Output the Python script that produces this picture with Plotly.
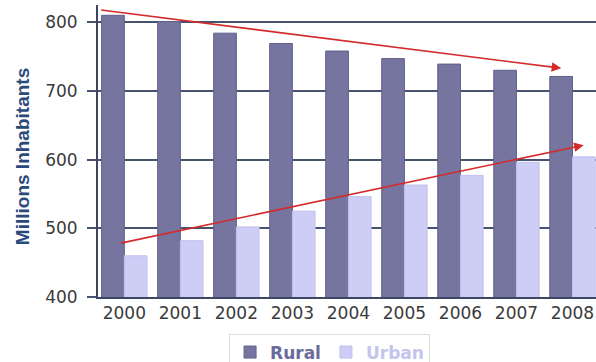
import plotly.graph_objects as go

years = ["2000", "2001", "2002", "2003", "2004", "2005", "2006", "2007", "2008"]
rural = [810, 801, 784, 769, 758, 747, 739, 730, 721]
urban = [460, 482, 502, 525, 546, 563, 577, 596, 604]
y_ticks = [400, 500, 600, 700, 800]

# trend arrows (category index, value)
trend_down = ((-0.44, 818), (7.8, 733))
trend_up = ((-0.09, 478), (8.2, 621))

fig = go.Figure()
fig.add_trace(go.Bar(x=years, y=rural, name="<span style='color:#6a6a9c'>Rural</span>",
                     marker=dict(color="#75759f", line=dict(color="#5f5f8a", width=1))))
fig.add_trace(go.Bar(x=years, y=urban, name="<span style='color:#c4c4ee'>Urban</span>",
                     marker=dict(color="#cdcdf5", line=dict(color="#c0c0ee", width=1))))

for (x0, y0), (x1, y1) in (trend_down, trend_up):
    fig.add_annotation(x=x1, y=y1, ax=x0, ay=y0, xref="x", yref="y",
                       axref="x", ayref="y", showarrow=True, arrowhead=2,
                       arrowsize=1.2, arrowwidth=1.6, arrowcolor="#d42a2a", text="")

fig.add_annotation(text="<b>Millions Inhabitants</b>", textangle=-90,
                   xref="paper", yref="paper", x=-0.1526, y=0.479,
                   xanchor="center", yanchor="middle", showarrow=False,
                   font=dict(size=19, family="Liberation Sans Narrow, Liberation Sans",
                             color="#2b4a7c"))

fig.update_layout(
    width=596, height=362,
    margin=dict(l=98, r=0, t=5, b=65, autoexpand=False),
    plot_bgcolor="white", paper_bgcolor="white",
    barmode="group", bargap=0.19, bargroupgap=0,
    font=dict(family="DejaVu Sans", color="#3a3a3a"),
    legend=dict(orientation="h", x=0.465, xanchor="center", y=-0.125, yanchor="top",
                font=dict(size=17, color="#666666", family="DejaVu Sans", weight="bold"),
                bordercolor="#dddddd", borderwidth=1, itemwidth=30,
                tracegroupgap=0),
    showlegend=True,
)
fig.update_xaxes(type="category", range=[-0.47, 8.42], showgrid=False,
                 showline=True, linecolor="#3a4866", linewidth=2,
                 tickfont=dict(size=17, family="DejaVu Sans", color="#3a3a3a"),
                 ticks="", automargin=False)
fig.update_yaxes(range=[400, 825], tickvals=y_ticks, showgrid=True,
                 gridcolor="#46526e", gridwidth=1.5,
                 showline=True, linecolor="#3a4866", linewidth=2,
                 ticks="outside", ticklen=9, tickcolor="#46526e", tickwidth=1.5,
                 ticklabelstandoff=6, automargin=False,
                 tickfont=dict(size=17, family="DejaVu Sans", color="#3a3a3a"))

fig.write_html("out.html")
